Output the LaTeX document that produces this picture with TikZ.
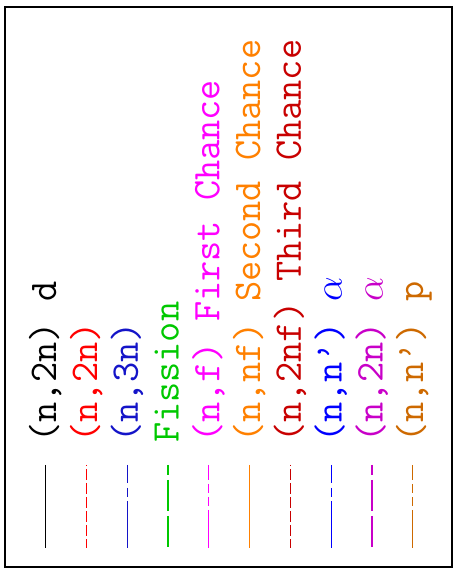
\documentclass[tikz,border=0pt]{standalone}
\usepackage{fix-cm}
\usepackage[OT1,TU]{fontenc}
\newcommand\legfont{\fontencoding{OT1}\fontfamily{cmtt}\fontsize{39.2}{45}\selectfont}
\definecolor{cA}{RGB}{0,0,0}
\definecolor{cB}{RGB}{255,0,0}
\definecolor{cC}{RGB}{20,20,200}
\definecolor{cD}{RGB}{0,200,0}
\definecolor{cE}{RGB}{255,0,255}
\definecolor{cF}{RGB}{255,128,0}
\definecolor{cG}{RGB}{200,0,0}
\definecolor{cH}{RGB}{0,0,255}
\definecolor{cI}{RGB}{200,0,200}
\definecolor{cJ}{RGB}{205,105,0}
\begin{document}
\begin{tikzpicture}[x=1pt,y=1pt,
  lbl/.style={rotate=90, anchor=base west, inner sep=0pt, font=\legfont},
  samp/.style={line width=1.2pt},
  pdash/.style={dash pattern=on 11pt off 3pt, dash phase=10pt},
  pdashdot/.style={dash pattern=on 18pt off 5pt on 9pt off 4pt on 60pt off 5pt},
  plong/.style={dash pattern=on 31pt off 5pt, dash phase=21pt},
  pmulti/.style={dash pattern=on 15pt off 4pt on 9pt off 4pt on 9pt off 4pt on 60pt off 4pt}]
\useasboundingbox (0,0) rectangle (453,574);
\draw[line width=1.3pt] (5,7) rectangle (452,567);
% sample line end points
\foreach \i/\xx in {1/45.7,2/86.5,3/127.3,4/168.0,5/208.8,6/249.6,7/290.4,8/331.2,9/372.0,10/412.7}{
  \coordinate (t\i) at (\xx,109);
  \coordinate (b\i) at (\xx,26);
}
\draw[samp, cA] (t1) -- (b1);
\draw[samp, cB, pdash] (t2) -- (b2);
\draw[samp, cC, pdashdot] (t3) -- (b3);
\draw[samp, cD, plong] (t4) -- (b4);
\draw[samp, cE, pmulti] (t5) -- (b5);
\draw[samp, cF] (t6) -- (b6);
\draw[samp, cG, pdash] (t7) -- (b7);
\draw[samp, cH, pdashdot] (t8) -- (b8);
\draw[samp, cI, plong] (t9) -- (b9);
\draw[samp, cJ, pmulti] (t10) -- (b10);
% labels
\node[lbl, text=cA] (l1) at (56.2,131) {(n,2n) d};
\node[lbl, text=cB] (l2) at (97.0,131) {(n,2n)};
\node[lbl, text=cC] (l3) at (137.8,131) {(n,3n)};
\node[lbl, text=cD] (l4) at (178.5,131) {Fission};
\node[lbl, text=cE] (l5) at (219.3,131) {(n,f) First Chance};
\node[lbl, text=cF] (l6) at (260.1,131) {(n,nf) Second Chance};
\node[lbl, text=cG] (l7) at (300.9,131) {(n,2nf) Third Chance};
\node[lbl, text=cH] (l8) at (341.7,131) {(n,n') $\alpha$};
\node[lbl, text=cI] (l9) at (382.5,131) {(n,2n) $\alpha$};
\node[lbl, text=cJ] (l10) at (423.2,131) {(n,n') p};
\end{tikzpicture}
\end{document}
